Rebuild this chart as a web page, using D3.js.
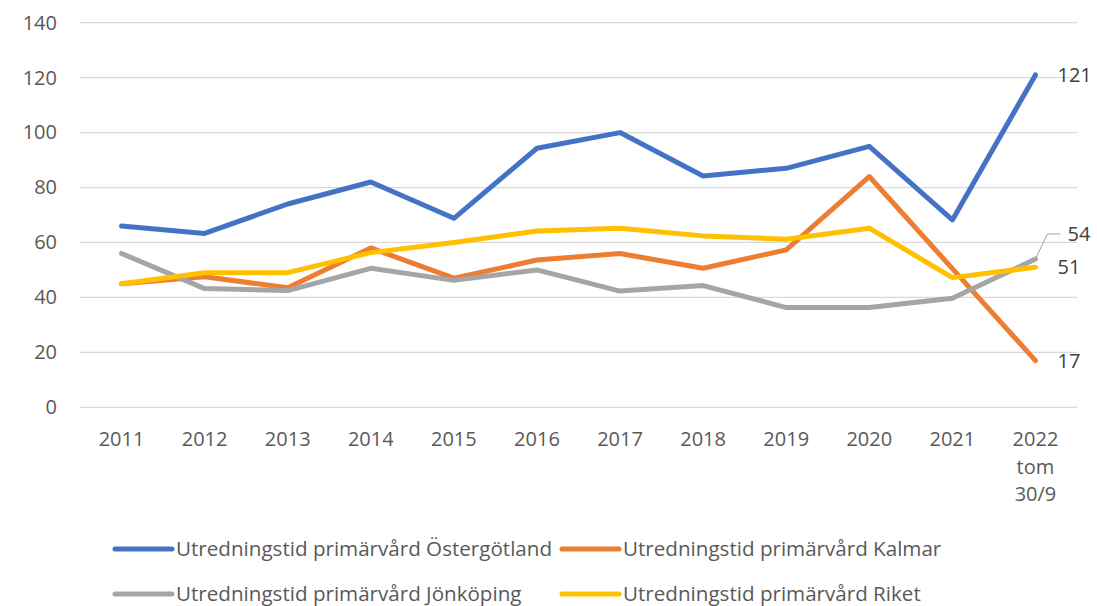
<!DOCTYPE html>
<html>
<head>
<meta charset="utf-8">
<script src="https://cdn.jsdelivr.net/npm/d3@7"></script>
<style>
  body { margin: 0; background: #fff; }
  svg { font-family: "Open Sans", "Liberation Sans", Arial, sans-serif; }
</style>
</head>
<body>
<section></section>
<script>
// Data
var years = ["2011", "2012", "2013", "2014", "2015", "2016", "2017", "2018", "2019", "2020", "2021", "2022"];
var yearLabels = [["2011"], ["2012"], ["2013"], ["2014"], ["2015"], ["2016"], ["2017"], ["2018"], ["2019"], ["2020"], ["2021"], ["2022", "tom", "30/9"]];
var ostergotland = [66, 63.3, 74, 82, 68.8, 94.3, 100, 84.2, 87, 95, 68.2, 121];
var kalmar = [45, 47.5, 43.5, 58, 47, 53.6, 56, 50.6, 57.3, 84, 50.5, 17];
var jonkoping = [56, 43.2, 42.5, 50.6, 46.2, 50, 42.3, 44.3, 36.3, 36.3, 39.7, 54];
var riket = [45, 49, 49, 56.3, 60, 64.2, 65.2, 62.4, 61.2, 65.2, 47.2, 51];
var seriesNames = ["Utredningstid primärvård Östergötland", "Utredningstid primärvård Kalmar",
                   "Utredningstid primärvård Jönköping", "Utredningstid primärvård Riket"];
var yTicks = [0, 20, 40, 60, 80, 100, 120, 140];

var series = [
    { name: seriesNames[0], values: ostergotland, color: "#4472C4" },
    { name: seriesNames[1], values: kalmar, color: "#ED7D31" },
    { name: seriesNames[2], values: jonkoping, color: "#A5A5A5" },
    { name: seriesNames[3], values: riket, color: "#FFC000" }
];

// Setup size.
var W = 1097, H = 606;
var plot = { left: 80, right: 1077, top: 22.7, bottom: 407.3 };
var fontSize = "20px";

var svg = d3.select("section").append("svg")
    .attr("width", W).attr("height", H);

var x = d3.scalePoint().domain(years).range([plot.left, plot.right]).padding(0.5);
var y = d3.scaleLinear().domain([0, 140]).range([plot.bottom, plot.top]);

// gridlines
svg.append("g")
    .selectAll("line")
    .data(yTicks)
    .join("line")
    .attr("x1", plot.left).attr("x2", plot.right)
    .attr("y1", function (d) { return y(d); })
    .attr("y2", function (d) { return y(d); })
    .attr("stroke", "#d9d9d9")
    .attr("stroke-width", 1.3);

// y axis labels
var yAxis = d3.axisLeft(y).tickValues(yTicks).tickSize(0).tickPadding(0);
svg.append("g")
    .attr("transform", "translate(57,0)")
    .call(yAxis)
    .call(function (g) { g.select(".domain").remove(); })
    .selectAll("text")
    .attr("fill", "#595959")
    .style("font-size", fontSize)
    .style("font-family", "'Open Sans', 'Liberation Sans', Arial, sans-serif");

// x axis labels
var xg = svg.append("g");
years.forEach(function (yr, i) {
    var t = xg.append("text")
        .attr("x", x(yr))
        .attr("y", 446)
        .attr("text-anchor", "middle")
        .attr("fill", "#595959")
        .style("font-size", fontSize);
    yearLabels[i].forEach(function (s, j) {
        t.append("tspan").attr("x", x(yr)).attr("dy", j === 0 ? 0 : 27.5).text(s);
    });
});

// lines
var line = d3.line()
    .x(function (d, i) { return x(years[i]); })
    .y(function (d) { return y(d); });

series.forEach(function (s) {
    svg.append("path")
        .datum(s.values)
        .attr("d", line)
        .attr("fill", "none")
        .attr("stroke", s.color)
        .attr("stroke-width", 5)
        .attr("stroke-linejoin", "round")
        .attr("stroke-linecap", "round");
});

// end labels
var last = years.length - 1;
var lx = x(years[last]);
function endLabel(txt, xx, yy) {
    svg.append("text")
        .attr("x", xx).attr("y", yy)
        .attr("dy", "0.35em")
        .attr("fill", "#404040")
        .style("font-size", fontSize)
        .text(txt);
}
endLabel("121", lx + 22, y(ostergotland[last]));
endLabel("17", lx + 22, y(kalmar[last]));
endLabel("51", lx + 22, y(riket[last]));
// Jönköping label with leader line
var jy = y(jonkoping[last]);
svg.append("polyline")
    .attr("points", [[lx, jy], [lx + 12, jy - 25], [lx + 25, jy - 25]].join(" "))
    .attr("fill", "none")
    .attr("stroke", "#a5a5a5")
    .attr("stroke-width", 1);
endLabel("54", lx + 32, jy - 25);

// legend
var legendPos = [[115, 549], [562, 549], [115, 594], [562, 594]];
series.forEach(function (s, i) {
    var p = legendPos[i];
    svg.append("line")
        .attr("x1", p[0]).attr("x2", p[0] + 57)
        .attr("y1", p[1]).attr("y2", p[1])
        .attr("stroke", s.color)
        .attr("stroke-width", 5)
        .attr("stroke-linecap", "round");
    svg.append("text")
        .attr("x", p[0] + 61).attr("y", p[1])
        .attr("dy", "0.35em")
        .attr("fill", "#595959")
        .style("font-size", "20.6px")
        .text(s.name);
});
</script>
</body>
</html>
